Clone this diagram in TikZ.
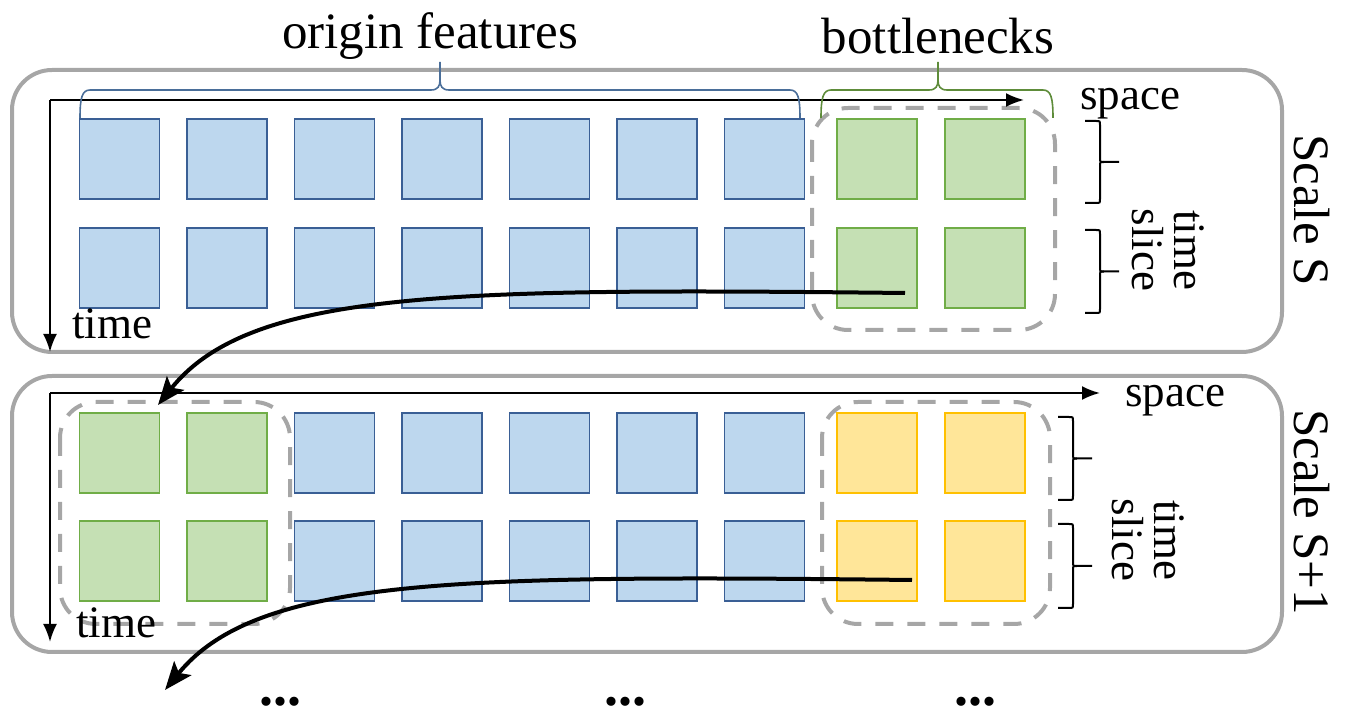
\documentclass[tikz,border=0pt]{standalone}
\usepackage{fontspec}
\setmainfont{LiberationSerif}[Extension=.ttf,UprightFont=*-Regular,BoldFont=*-Bold,ItalicFont=*-Italic,BoldItalicFont=*-BoldItalic]
\usetikzlibrary{arrows.meta}
\definecolor{bfill}{HTML}{BDD7EE}
\definecolor{bline}{HTML}{3A5F95}
\definecolor{gfill}{HTML}{C5E0B4}
\definecolor{gline}{HTML}{70AD47}
\definecolor{yfill}{HTML}{FFE699}
\definecolor{yline}{HTML}{FFC000}
\definecolor{panelgrey}{HTML}{A6A6A6}
\definecolor{bracegreen}{HTML}{5E8C3A}
\definecolor{braceblue}{HTML}{4A6E99}
\newcommand{\HBrace}[4]{%
  \draw[#4] (#1,118) .. controls (#1,98) and (#1+2,90) .. (#1+10,90) -- (#3-9,90) .. controls (#3-2,90) and (#3,86) .. (#3,80) -- (#3,62);
  \draw[#4] (#2,118) .. controls (#2,98) and (#2-2,90) .. (#2-10,90) -- (#3+9,90) .. controls (#3+2,90) and (#3,86) .. (#3,80);
}
\newcommand{\VBrace}[3]{%
  \draw[vbrace] (#1,#2) -- (#1+11,#2) .. controls (#1+15,#2) .. (#1+15,#2+4) -- (#1+15,{(#2+#3)/2-4}) .. controls (#1+15,{(#2+#3)/2}) .. (#1+19,{(#2+#3)/2}) -- (#1+34,{(#2+#3)/2});
  \draw[vbrace] (#1,#3) -- (#1+11,#3) .. controls (#1+15,#3) .. (#1+15,#3-4) -- (#1+15,{(#2+#3)/2+4}) .. controls (#1+15,{(#2+#3)/2}) .. (#1+19,{(#2+#3)/2});
}
\begin{document}
\begin{tikzpicture}[x=0.5pt,y=-0.5pt,
  sq/.style={minimum size=40pt,inner sep=0pt,line width=0.9pt},
  bsq/.style={sq,fill=bfill,draw=bline},
  gsq/.style={sq,fill=gfill,draw=gline},
  ysq/.style={sq,fill=yfill,draw=yline},
  panel/.style={draw=panelgrey,line width=2pt,rounded corners=20pt},
  dashbox/.style={draw=panelgrey,line width=2pt,rounded corners=18pt,dash pattern=on 9pt off 7pt},
  axis/.style={line width=1.1pt,-{Latex[length=9pt,width=7pt]}},
  flow/.style={line width=2pt,-{Stealth[length=14pt,width=11pt,inset=3pt]}},
  head/.style={font=\fontsize{25.5}{28}\selectfont,inner sep=0pt},
  lab/.style={font=\fontsize{22.5}{21}\selectfont,inner sep=0pt},
  dots/.style={font=\fontsize{28}{28}\selectfont\bfseries,inner sep=0pt},
  vbrace/.style={line width=1pt},
  brc/.style={line width=0.8pt}]
\useasboundingbox (0,0) rectangle (1346,710);

% panels
\draw[panel] (12,70) rectangle (1282,352);
\draw[panel] (12,376) rectangle (1282,652);

% dashed groups
\draw[dashbox] (812,108) rectangle (1055,330);
\draw[dashbox] (60,402) rectangle (290,624);
\draw[dashbox] (822,402) rectangle (1050,624);

% squares, scale S
\foreach \c [count=\i] in {119.5,227,334.5,442,549.5,657,764.5} {
  \node[bsq] (T1-\i) at (\c,159) {};
  \node[bsq] (T2-\i) at (\c,268) {};
}
\node[gsq] (T1-8) at (877,159) {};
\node[gsq] (T1-9) at (985,159) {};
\node[gsq] (T2-8) at (877,268) {};
\node[gsq] (T2-9) at (985,268) {};

% squares, scale S+1
\node[gsq] (B1-1) at (119.5,453) {};
\node[gsq] (B1-2) at (227,453) {};
\node[gsq] (B2-1) at (119.5,561) {};
\node[gsq] (B2-2) at (227,561) {};
\foreach \c [count=\i from 3] in {334.5,442,549.5,657,764.5} {
  \node[bsq] (B1-\i) at (\c,453) {};
  \node[bsq] (B2-\i) at (\c,561) {};
}
\node[ysq] (B1-8) at (877,453) {};
\node[ysq] (B1-9) at (985,453) {};
\node[ysq] (B2-8) at (877,561) {};
\node[ysq] (B2-9) at (985,561) {};

% axes
\coordinate (o1) at (50,100);
\coordinate (sx1) at (1024,100);
\coordinate (ty1) at (50,352);
\draw[axis] (o1) -- (sx1);
\draw[axis] (o1) -- (ty1);
\node[lab,anchor=base west] (space1) at (1080,110) {space};
\node[lab,anchor=base west] (time1) at (72,339) {time};

\coordinate (o2) at (50,393);
\coordinate (sx2) at (1100,393);
\coordinate (ty2) at (50,642);
\draw[axis] (o2) -- (sx2);
\draw[axis] (o2) -- (ty2);
\node[lab,anchor=base west] (space2) at (1125,407) {space};
\node[lab,anchor=base west] (time2) at (76,638) {time};

% top braces
\HBrace{80}{800}{440}{braceblue,brc}
\HBrace{821}{1053}{938}{bracegreen,brc}
\node[head] (of) at (430,36) {origin features};
\node[head] (bn) at (938,36) {bottlenecks};

% time-slice braces
\VBrace{1085}{121}{203}
\VBrace{1085}{230}{313}
\node[lab,align=center,rotate=-90] (ts1) at (1168,250) {time\\slice};
\VBrace{1058}{417}{500}
\VBrace{1058}{524}{608}
\node[lab,align=center,rotate=-90] (ts2) at (1148,540) {time\\slice};

% scale labels
\node[head,rotate=-90] (sc1) at (1312,210) {Scale S};
\node[head,rotate=-90] (sc2) at (1312,512) {Scale S+1};

% flow arrows
\coordinate (a1) at (905,293);
\coordinate (e1) at (158,405);
\draw[flow] (a1) .. controls (450,288) and (250,290) .. (e1);
\coordinate (a2) at (912,580);
\coordinate (e2) at (165,690);
\draw[flow] (a2) .. controls (457,575) and (257,577) .. (e2);

% dots
\node[dots,anchor=base] (d1) at (280,706) {...};
\node[dots,anchor=base] (d2) at (625,706) {...};
\node[dots,anchor=base] (d3) at (975,706) {...};
\end{tikzpicture}
\end{document}
